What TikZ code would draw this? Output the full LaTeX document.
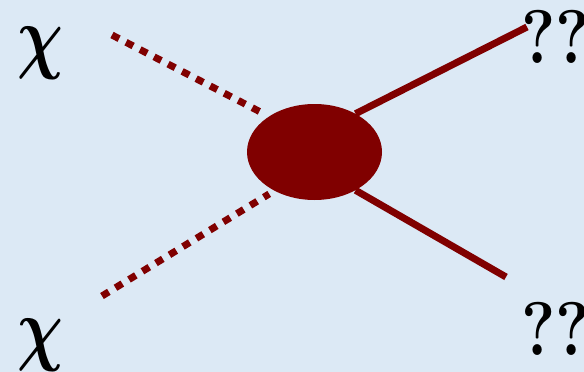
\documentclass[tikz,border=0pt]{standalone}
\usepackage{amsmath,amssymb,bm}
\usepackage{xcolor}
\usetikzlibrary{shapes.geometric,positioning}
\definecolor{paleblue}{HTML}{DCE9F5}
\definecolor{blobred}{HTML}{800000}
\newcommand{\bigchi}{\scalebox{6.4}[8.2]{$\bm{\chi}$}}
\tikzset{
  dm/.style={blobred,line width=7pt,dash pattern=on 8pt off 7.8pt},
  leg/.style={blobred,line width=7pt},
  lbl/.style={anchor=base west,inner sep=0pt}
}

\begin{document}
\begin{tikzpicture}[x=1pt,y=-1pt]
\fill[paleblue] (0,0) rectangle (584,372);
\useasboundingbox (0,0) rectangle (584,372);
\node[ellipse,fill=blobred,minimum width=135pt,minimum height=96pt,inner sep=0pt] (blob) at (314.5,152) {};
\coordinate (inA) at (112,35); \coordinate (inB) at (102,296);
\coordinate (outA) at (527,27); \coordinate (outB) at (506,277);
\draw[dm,shorten >=6pt] (inA)--(blob.142); \draw[dm,shorten >=6pt] (inB)--(blob.224);
\draw[leg] (outA)--(blob.43); \draw[leg] (outB)--(blob.317);
\node[lbl] (chiA) at (17,63) {\bigchi};
\node[lbl] (chiB) at (17,355) {\bigchi};
\node[lbl,xscale=0.85,font=\fontsize{76}{76}\selectfont\bfseries] (qA) at (521,63) {??};
\node[lbl,xscale=0.85,font=\fontsize{76}{76}\selectfont\bfseries] (qB) at (521,355) {??};
\end{tikzpicture}
\end{document}
